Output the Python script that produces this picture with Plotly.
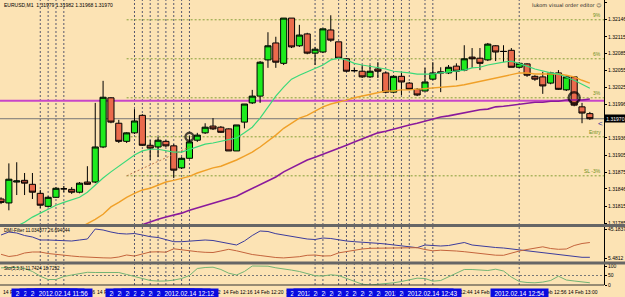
import plotly.graph_objects as go

# ---------------- data ----------------
bar_idx = list(range(76))

opens = [1.31828, 1.31821, 1.31858, 1.31861, 1.31854, 1.31838, 1.31815, 1.31831, 1.31846, 1.31845,
         1.31840, 1.31858, 1.31858, 1.31920, 1.32007, 1.31962, 1.31930, 1.31945, 1.31976, 1.31923,
         1.31920, 1.31930, 1.31922, 1.31883, 1.31900, 1.31932, 1.31945, 1.31957, 1.31955, 1.31952,
         1.31913, 1.31964, 1.31998, 1.32010, 1.32074, 1.32104, 1.32068, 1.32148, 1.32099, 1.32120,
         1.32086, 1.32088, 1.32127, 1.32106, 1.32076, 1.32055, 1.32054, 1.32044, 1.32058, 1.32051,
         1.32017, 1.32045, 1.32033, 1.32022, 1.32019, 1.32040, 1.32053, 1.32051, 1.32063, 1.32056,
         1.32079, 1.32077, 1.32074, 1.32099, 1.32089, 1.32091, 1.32061, 1.32067, 1.32045, 1.32044,
         1.32033, 1.32051, 1.32021, 1.32044, 1.31991, 1.31979]
highs = [1.31831, 1.31891, 1.31893, 1.31874, 1.31874, 1.31844, 1.31833, 1.31849, 1.31851, 1.31849,
         1.31858, 1.31886, 1.31998, 1.32037, 1.32008, 1.31968, 1.31946, 1.31987, 1.31978, 1.31932,
         1.31938, 1.31932, 1.31925, 1.31902, 1.31939, 1.31945, 1.31962, 1.31971, 1.31957, 1.31953,
         1.31959, 1.31996, 1.32021, 1.32072, 1.32123, 1.32115, 1.32148, 1.32148, 1.32136, 1.32122,
         1.32097, 1.32129, 1.32153, 1.32106, 1.32077, 1.32060, 1.32065, 1.32065, 1.32070, 1.32053,
         1.32047, 1.32051, 1.32035, 1.32024, 1.32060, 1.32070, 1.32061, 1.32065, 1.32068, 1.32100,
         1.32095, 1.32095, 1.32104, 1.32100, 1.32100, 1.32095, 1.32070, 1.32068, 1.32047, 1.32053,
         1.32053, 1.32056, 1.32045, 1.32045, 1.31998, 1.31982]
lows = [1.31819, 1.31808, 1.31835, 1.31835, 1.31828, 1.31812, 1.31814, 1.31830, 1.31840, 1.31837,
        1.31838, 1.31853, 1.31856, 1.31918, 1.31962, 1.31927, 1.31927, 1.31943, 1.31922, 1.31897,
        1.31902, 1.31920, 1.31865, 1.31881, 1.31899, 1.31929, 1.31943, 1.31950, 1.31945, 1.31913,
        1.31913, 1.31953, 1.31996, 1.31998, 1.32060, 1.32060, 1.32065, 1.32095, 1.32097, 1.32084,
        1.32065, 1.32086, 1.32106, 1.32076, 1.32053, 1.32053, 1.32042, 1.32042, 1.32042, 1.32015,
        1.32015, 1.32012, 1.32021, 1.32010, 1.32019, 1.32038, 1.32017, 1.32049, 1.32038, 1.32054,
        1.32060, 1.32056, 1.32072, 1.32072, 1.32070, 1.32061, 1.32060, 1.32044, 1.32037, 1.32014,
        1.32031, 1.32021, 1.32019, 1.31992, 1.31962, 1.31968]
closes = [1.31822, 1.31863, 1.31860, 1.31856, 1.31840, 1.31817, 1.31831, 1.31847, 1.31846, 1.31840,
          1.31856, 1.31854, 1.31920, 1.32008, 1.31964, 1.31930, 1.31945, 1.31966, 1.31923, 1.31918,
          1.31932, 1.31922, 1.31879, 1.31900, 1.31929, 1.31941, 1.31955, 1.31952, 1.31946, 1.31913,
          1.31959, 1.31996, 1.32010, 1.32070, 1.32099, 1.32070, 1.32148, 1.32097, 1.32118, 1.32086,
          1.32093, 1.32129, 1.32109, 1.32077, 1.32054, 1.32055, 1.32044, 1.32054, 1.32054, 1.32017,
          1.32045, 1.32035, 1.32022, 1.32012, 1.32035, 1.32051, 1.32051, 1.32061, 1.32054, 1.32076,
          1.32076, 1.32068, 1.32102, 1.32088, 1.32089, 1.32061, 1.32068, 1.32047, 1.32040, 1.32028,
          1.32051, 1.32022, 1.32044, 1.31994, 1.31980, 1.31970]

ma_fast = [None, None, 1.31780,
           1.31787, 1.31796, 1.31803, 1.31810, 1.31817, 1.31822, 1.31826, 1.31831, 1.31840, 1.31853,
           1.31865, 1.31876, 1.31886, 1.31897, 1.31906, 1.31913, 1.31916, 1.31916, 1.31913, 1.31911,
           1.31911, 1.31916, 1.31920, 1.31925, 1.31927, 1.31930, 1.31932, 1.31936, 1.31945, 1.31955,
           1.31971, 1.31991, 1.32010, 1.32026, 1.32040, 1.32047, 1.32053, 1.32058, 1.32065, 1.32074,
           1.32077, 1.32074, 1.32068, 1.32065, 1.32063, 1.32060, 1.32058, 1.32054, 1.32053, 1.32051,
           1.32049, 1.32049, 1.32049, 1.32051, 1.32053, 1.32054, 1.32056, 1.32060, 1.32061, 1.32065,
           1.32068, 1.32070, 1.32072, 1.32068, 1.32063, 1.32058, 1.32054, 1.32051, 1.32049, 1.32044,
           1.32038, 1.32031, 1.32024]
ma_mid = [None] * 10 + [1.31777,
          1.31784, 1.31792, 1.31801, 1.31814, 1.31822, 1.31831, 1.31838, 1.31844, 1.31847, 1.31853,
          1.31858, 1.31861, 1.31865, 1.31868, 1.31874, 1.31879, 1.31883, 1.31886, 1.31891, 1.31897,
          1.31904, 1.31911, 1.31920, 1.31930, 1.31941, 1.31953, 1.31962, 1.31971, 1.31976, 1.31984,
          1.31991, 1.31996, 1.31999, 1.32003, 1.32007, 1.32010, 1.32014, 1.32017, 1.32019, 1.32019,
          1.32021, 1.32021, 1.32022, 1.32024, 1.32024, 1.32026, 1.32026, 1.32028, 1.32030, 1.32033,
          1.32035, 1.32038, 1.32042, 1.32045, 1.32047, 1.32051, 1.32051, 1.32049, 1.32049, 1.32049,
          1.32049, 1.32047, 1.32044, 1.32038, 1.32033]
ma_slow = [None] * 16 + [1.31773, 1.31778,
           1.31782, 1.31787, 1.31792, 1.31796, 1.31799, 1.31803, 1.31808, 1.31812, 1.31817, 1.31821,
           1.31824, 1.31828, 1.31833, 1.31840, 1.31847, 1.31853, 1.31860, 1.31867, 1.31876, 1.31883,
           1.31891, 1.31897, 1.31902, 1.31907, 1.31913, 1.31918, 1.31923, 1.31929, 1.31934, 1.31939,
           1.31945, 1.31948, 1.31952, 1.31955, 1.31959, 1.31962, 1.31966, 1.31969, 1.31973, 1.31975,
           1.31978, 1.31980, 1.31984, 1.31986, 1.31987, 1.31991, 1.31992, 1.31994, 1.31996, 1.31998,
           1.31999, 1.31999, 1.32001, 1.32001, 1.32003, 1.32003, 1.32003, 1.32005]

dmi_a = [36.97, 41.07, 39.70, 36.28, 34.23, 30.12, 30.12, 29.44, 28.75, 28.75,
         30.12, 31.49, 45.18, 43.81, 41.07, 39.02, 38.34, 39.02, 36.97, 34.64,
         33.54, 30.80, 27.79, 27.79, 28.75, 30.12, 30.12, 29.44, 27.38, 25.33,
         23.28, 28.75, 36.28, 42.44, 41.76, 38.75, 36.97, 34.91, 32.86, 31.49,
         30.80, 32.86, 32.17, 30.12, 28.75, 27.79, 27.38, 26.70, 25.60, 24.65,
         23.28, 21.91, 20.54, 19.58, 23.28, 22.59, 21.91, 22.59, 24.65, 26.70,
         23.28, 21.91, 20.95, 19.85, 19.17, 17.80, 16.43, 15.06, 13.69, 12.32,
         10.95, 9.59, 8.63, 7.53, 6.44, 6.44]
dmi_b = [10.54, 7.53, 8.90, 12.32, 13.69, 13.69, 11.64, 10.27, 9.59, 8.22,
         7.26, 6.40, 6.20, 5.70, 5.48, 6.85, 9.59, 8.22, 10.96, 13.69,
         13.97, 13.42, 18.07, 16.43, 15.06, 14.10, 13.28, 13.01, 15.06, 17.39,
         15.34, 12.32, 10.27, 8.90, 7.26, 6.16, 5.60, 6.16, 7.26, 9.18,
         9.59, 8.22, 8.50, 12.50, 14.38, 15.34, 17.80, 18.76, 18.76, 19.44,
         19.17, 18.76, 19.17, 19.58, 17.12, 15.34, 16.16, 16.02, 15.06, 14.10,
         12.87, 11.78, 10.54, 9.31, 9.18, 12.32, 15.06, 17.12, 18.76, 20.81,
         18.49, 17.39, 17.80, 22.59, 25.33, 26.69]
stoch = [90.5, 93.2, 92.1, 86.8, 71.1, 46.3, 28.9, 28.9, 44.7, 52.6,
         58.9, 66.8, 65.8, 65.8, 68.9, 65.8, 55.3, 44.7, 34.2, 23.7,
         20.5, 21.1, 25.8, 34.2, 50.0, 86.8, 92.1, 93.7, 81.6, 62.1,
         52.6, 71.1, 100.0, 100.0, 98.9, 90.5, 85.8, 78.4, 71.1, 60.5,
         48.9, 47.4, 53.7, 50.0, 34.2, 18.4, 4.2, 0.0, 2.6, 7.9,
         11.6, 18.4, 28.9, 35.8, 34.2, 20.0, 23.7, 42.1, 64.2, 81.6,
         81.6, 79.5, 76.3, 83.2, 73.7, 42.1, 18.4, 13.2, 11.6, 15.3,
         23.7, 46.3, 26.3, 21.1, 16.8, 11.74]

price_ticks = [1.32175, 1.32146, 1.32115, 1.32085, 1.32055, 1.32025, 1.31996,
               1.31936, 1.31905, 1.31875, 1.31846, 1.31815, 1.31785]
dmi_ticks = [45.1837, 5.4812]
stoch_ticks = [0, 50, 100]

h_line_price = 1.32002
bid_price = 1.31970
level_prices = [1.32145, 1.32076, 1.32007, 1.31938, 1.31869]
level_names = ["9%", "6%", "3%", "Entry", "SL -3%"]
level_start = 16
proj_x = [16, 24]
proj_y = [1.31869, 1.31920]
mark_x = [24, 73]
mark_y = [1.31938, 1.32007]
mark_size = [8, 11]

axis_label_idx = [0, 4, 8, 12, 16, 20, 24, 28, 32, 36, 40, 44, 48, 52, 56, 60, 64, 68, 72]
axis_labels = ["14 Feb 11:48", "14 Feb 11:52", "14 Feb 11:56", "14 Feb 12:00", "14 Feb 12:04",
               "14 Feb 12:08", "14 Feb 12:12", "14 Feb 12:16", "14 Feb 12:20", "14 Feb 12:24",
               "14 Feb 12:28", "14 Feb 12:32", "14 Feb 12:36", "14 Feb 12:40", "14 Feb 12:44",
               "14 Feb 12:48", "14 Feb 12:52", "14 Feb 12:56", "14 Feb 13:00"]
vline_idx = [5, 6, 7, 8, 17, 18, 19, 20, 21, 22, 23, 24,
             40, 41, 43, 44, 45, 46, 47, 48, 49, 50, 51, 52, 54, 55, 66]
vline_labels = ["2012.02.14 11:53", "2012.02.14 11:54", "2012.02.14 11:55", "2012.02.14 11:56",
                "2012.02.14 12:05", "2012.02.14 12:06", "2012.02.14 12:07", "2012.02.14 12:08",
                "2012.02.14 12:09", "2012.02.14 12:10", "2012.02.14 12:11", "2012.02.14 12:12",
                "2012.02.14 12:28", "2012.02.14 12:29", "2012.02.14 12:31", "2012.02.14 12:32",
                "2012.02.14 12:33", "2012.02.14 12:34", "2012.02.14 12:35", "2012.02.14 12:36",
                "2012.02.14 12:37", "2012.02.14 12:38", "2012.02.14 12:39", "2012.02.14 12:40",
                "2012.02.14 12:42", "2012.02.14 12:43", "2012.02.14 12:54"]

title_text = "EURUSD,M1  1.31979 1.31982 1.31968 1.31970"
dmi_title = "DMI-Filter 11.034877 26.694044"
sto_title = "Sto(5,3,3) 11.7424 18.7252"
tool_title = "lukom visual order editor \u263a"

# ---------------- style ----------------
W, H = 625, 297
ML, MR, MT, MB = 0, 21, 0, 12
PH = H - MT - MB
BG = "#FCE3B4"
FONT = "Liberation Sans"
X_RANGE = [-0.13, 76.8]


def py(pix):
    return (PH - pix) / PH


fig = go.Figure()

fig.add_trace(go.Candlestick(
    x=bar_idx, open=opens, high=highs, low=lows, close=closes,
    increasing=dict(fillcolor="#1EEB1E", line=dict(color="#000000", width=1)),
    decreasing=dict(fillcolor="#EA6A4C", line=dict(color="#000000", width=1)),
    whiskerwidth=0, showlegend=False, hoverinfo="skip", xaxis="x", yaxis="y"))

for vals, col, w in [(ma_slow, "#8A1A9C", 1.6), (ma_mid, "#F0A028", 1.4), (ma_fast, "#3AD97A", 1.2)]:
    fig.add_trace(go.Scatter(x=bar_idx, y=vals, mode="lines", line=dict(color=col, width=w),
                             showlegend=False, hoverinfo="skip", xaxis="x", yaxis="y"))

fig.add_trace(go.Scatter(x=proj_x, y=proj_y, mode="lines",
                         line=dict(color="#C0784E", width=1, dash="2px,2px"),
                         showlegend=False, hoverinfo="skip", xaxis="x", yaxis="y"))
fig.add_trace(go.Scatter(x=mark_x, y=mark_y, mode="markers",
                         marker=dict(symbol="circle-open", size=mark_size, color="#000000",
                                     line=dict(width=2.4, color="#000000")),
                         showlegend=False, hoverinfo="skip", xaxis="x", yaxis="y"))

fig.add_trace(go.Scatter(x=bar_idx, y=dmi_a, mode="lines", line=dict(color="#3C3C9C", width=1),
                         showlegend=False, hoverinfo="skip", xaxis="x", yaxis="y2"))
fig.add_trace(go.Scatter(x=bar_idx, y=dmi_b, mode="lines", line=dict(color="#C4643C", width=1),
                         showlegend=False, hoverinfo="skip", xaxis="x", yaxis="y2"))
fig.add_trace(go.Scatter(x=bar_idx, y=stoch, mode="lines", line=dict(color="#74B474", width=1),
                         showlegend=False, hoverinfo="skip", xaxis="x", yaxis="y3"))

shapes = []
for i in vline_idx:
    shapes.append(dict(type="line", xref="x", yref="paper", x0=i, x1=i, y0=0, y1=1,
                       line=dict(color="#58586E", width=1, dash="2px,2px"), layer="below"))
for lv in level_prices:
    shapes.append(dict(type="line", xref="x", yref="y", x0=level_start, x1=X_RANGE[1], y0=lv, y1=lv,
                       line=dict(color="#86A038", width=1, dash="2px,2px"), layer="below"))
shapes.append(dict(type="line", xref="x domain", yref="y", x0=0, x1=1, y0=h_line_price, y1=h_line_price,
                   line=dict(color="#C846C8", width=2), layer="below"))
shapes.append(dict(type="line", xref="x domain", yref="y", x0=0, x1=1, y0=bid_price, y1=bid_price,
                   line=dict(color="#767676", width=1), layer="below"))
shapes.append(dict(type="line", xref="x domain", yref="y3", x0=0, x1=1, y0=50, y1=50,
                   line=dict(color="#777777", width=1, dash="2px,2px"), layer="below"))
for pix, w in [(225.5, 3), (263, 3)]:
    shapes.append(dict(type="line", xref="paper", yref="paper", x0=0, x1=W / (W - MR), y0=py(pix), y1=py(pix),
                       line=dict(color="#666666", width=w)))
shapes.append(dict(type="line", xref="paper", yref="paper", x0=0, x1=1, y0=0, y1=0,
                   line=dict(color="#333333", width=1)))

ann = []
small = dict(family=FONT, size=5, color="#000000")
ann.append(dict(text=title_text, xref="paper", yref="paper", x=0.004, y=py(5), xanchor="left",
                yanchor="middle", showarrow=False, font=small))
ann.append(dict(text=tool_title, xref="paper", yref="paper", x=0.999, y=py(5), xanchor="right",
                yanchor="middle", showarrow=False, font=dict(family="DejaVu Sans", size=5, color="#222222")))
ann.append(dict(text=dmi_title, xref="paper", yref="paper", x=0.004, y=py(230), xanchor="left",
                yanchor="middle", showarrow=False, font=dict(family=FONT, size=4.6, color="#000000")))
ann.append(dict(text=sto_title, xref="paper", yref="paper", x=0.004, y=py(268), xanchor="left",
                yanchor="middle", showarrow=False, font=dict(family=FONT, size=4.6, color="#000000")))
for lv, nm in zip(level_prices, level_names):
    ann.append(dict(text=nm, xref="paper", yref="y", x=0.998, y=lv, xanchor="right", yanchor="bottom",
                    showarrow=False, font=dict(family=FONT, size=5, color="#6E8E22")))
ann.append(dict(text="&lt;", xref="paper", yref="y", x=0.9935, y=1.31962, xanchor="center",
                yanchor="middle", showarrow=False, font=dict(family=FONT, size=8, color="#2A2A9A")))
ann.append(dict(text="1.31970", xref="paper", yref="y", x=1.0, y=bid_price, xanchor="left",
                yanchor="middle", showarrow=False, bgcolor="#000000", width=21, height=7, borderpad=0,
                font=dict(family=FONT, size=5, color="#FFFFFF")))
for i, t in zip(axis_label_idx, axis_labels):
    ann.append(dict(text=t, xref="x", yref="paper", x=i, y=py(287), xanchor="left", yanchor="top",
                    showarrow=False, font=small))
for i, t in zip(vline_idx, vline_labels):
    ann.append(dict(text=t, xref="x", yref="paper", x=i, y=py(287.5), xanchor="center", yanchor="top",
                    showarrow=False, bgcolor="#0A0AE0", width=57, height=9, borderpad=0,
                    font=dict(family=FONT, size=6.4, color="#FFFFFF")))

tickfont = dict(family=FONT, size=5, color="#000000")
common_y = dict(side="right", ticks="outside", ticklen=2, tickcolor="#000000", tickfont=tickfont,
                showgrid=False, zeroline=False, showline=True, linecolor="#000000", linewidth=1,
                fixedrange=True, anchor="x")

fig.update_layout(
    width=W, height=H, autosize=False,
    margin=dict(l=ML, r=MR, t=MT, b=MB, pad=0),
    paper_bgcolor=BG, plot_bgcolor=BG,
    boxgap=0.22, boxgroupgap=0,
    showlegend=False,
    xaxis=dict(range=X_RANGE, showticklabels=False, showgrid=False, zeroline=False, showline=False,
               ticks="", rangeslider=dict(visible=False), fixedrange=True, anchor="y3"),
    yaxis=dict(domain=[py(225), 1], range=[1.31782, 1.32180], tickvals=price_ticks,
               ticktext=["%.5f" % v for v in price_ticks], **common_y),
    yaxis2=dict(domain=[py(262), py(227)], range=[0.0, 47.92], tickvals=dmi_ticks,
                ticktext=["45.1837", "5.4812"], **common_y),
    yaxis3=dict(domain=[0, py(264)], range=[0, 110.5], tickvals=stoch_ticks,
                ticktext=["0", "50", "100"], **common_y),
    shapes=shapes,
    annotations=ann,
)

fig.write_html("out.html")
